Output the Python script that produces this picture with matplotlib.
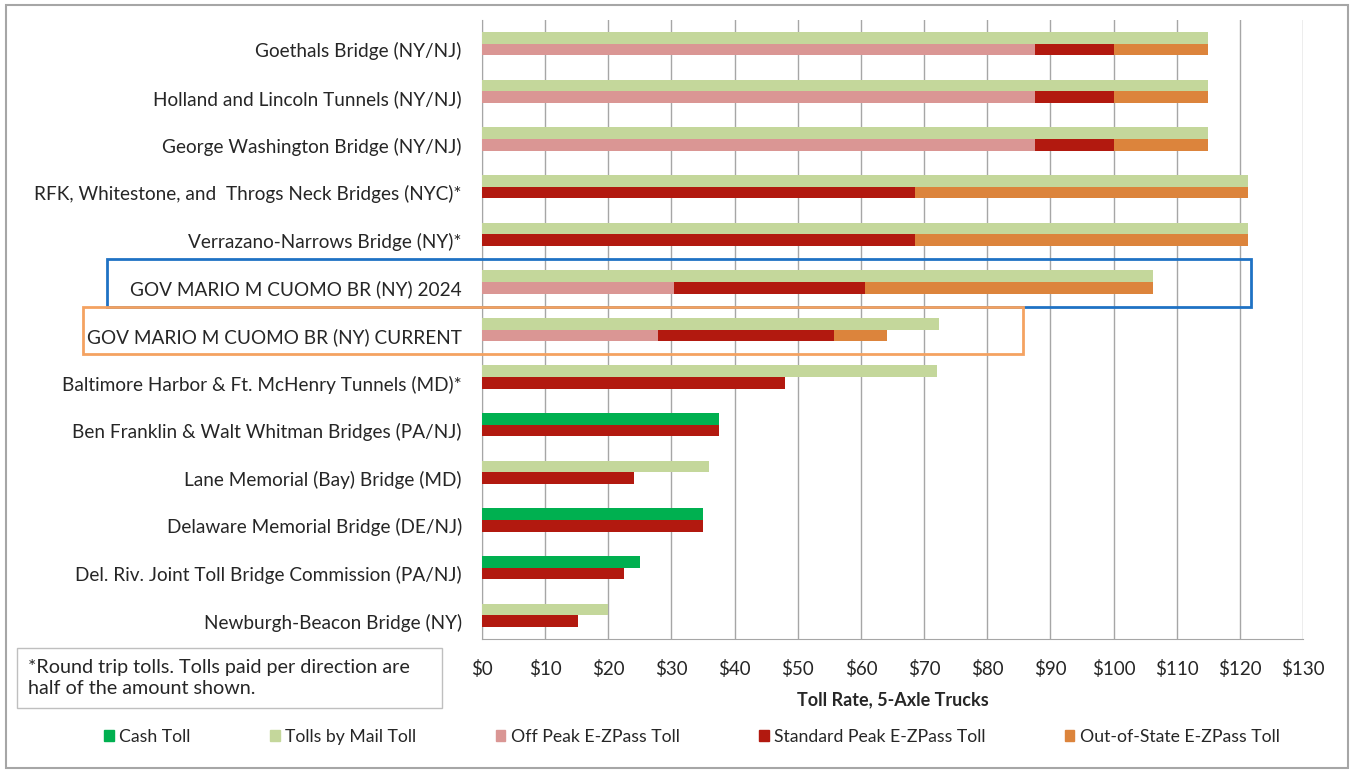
import matplotlib.pyplot as plt
import matplotlib.transforms as mtransforms
from matplotlib.patches import Rectangle, Patch

plt.rcParams['font.family'] = ['Lato', 'DejaVu Sans']

bridges = [
    "Goethals Bridge (NY/NJ)",
    "Holland and Lincoln Tunnels (NY/NJ)",
    "George Washington Bridge (NY/NJ)",
    "RFK, Whitestone, and  Throgs Neck Bridges (NYC)*",
    "Verrazano-Narrows Bridge (NY)*",
    "GOV MARIO M CUOMO BR (NY) 2024",
    "GOV MARIO M CUOMO BR (NY) CURRENT",
    "Baltimore Harbor & Ft. McHenry Tunnels (MD)*",
    "Ben Franklin & Walt Whitman Bridges (PA/NJ)",
    "Lane Memorial (Bay) Bridge (MD)",
    "Delaware Memorial Bridge (DE/NJ)",
    "Del. Riv. Joint Toll Bridge Commission (PA/NJ)",
    "Newburgh-Beacon Bridge (NY)",
]
cash_toll = [0, 0, 0, 0, 0, 0, 0, 0, 37.5, 0, 35, 25, 0]
mail_toll = [115, 115, 115, 121.3, 121.3, 106.2, 72.4, 72, 0, 36, 0, 0, 20]
off_peak = [87.5, 87.5, 87.5, 0, 0, 30.35, 27.85, 0, 0, 0, 0, 0, 0]
standard_peak = [100, 100, 100, 68.5, 68.5, 60.7, 55.7, 48, 37.5, 24, 35, 22.5, 15.25]
out_of_state = [115, 115, 115, 121.3, 121.3, 106.2, 64.1, 0, 0, 0, 0, 0, 0]
x_ticks = list(range(0, 131, 10))

c_cash = '#00B050'
c_mail = '#C4D79B'
c_off = '#DA9694'
c_std = '#B2190F'
c_oos = '#DC843C'
txt = '#262626'

W, H = 1351, 773


def fpos(x, y):
    # pixel position (from top-left) -> figure fraction
    return x / W, 1 - y / H


fig = plt.figure(figsize=(W / 100, H / 100), dpi=100)
ax = fig.add_axes([482 / W, 1 - 639 / H, (1303 - 482) / W, (639 - 20) / H])

y = list(range(len(bridges)))
h = 0.245
top = [v - h / 2 for v in y]
bot = [v + h / 2 for v in y]

ax.barh(top, mail_toll, height=h, color=c_mail, zorder=3)
ax.barh(top, cash_toll, height=h, color=c_cash, zorder=3)
# E-ZPass rates overlap: widest drawn first
ax.barh(bot, out_of_state, height=h, color=c_oos, zorder=3)
ax.barh(bot, standard_peak, height=h, color=c_std, zorder=4)
ax.barh(bot, off_peak, height=h, color=c_off, zorder=5)

ax.set_ylim(len(bridges) - 0.5, -0.5)
ax.set_xlim(0, 130)
ax.set_yticks(y)
ax.set_yticklabels(bridges, fontsize=13.7, color=txt)
ax.set_xticks(x_ticks)
ax.set_xticklabels([f'${v}' for v in x_ticks], fontsize=13.5, color=txt)
ax.tick_params(axis='y', length=0, pad=14.5)
ax.tick_params(axis='x', length=0, pad=15)
# category labels sit a little below the bar pair centre
shift = mtransforms.ScaledTranslation(0, -6 / 100, fig.dpi_scale_trans)
for lbl in ax.get_yticklabels():
    lbl.set_transform(lbl.get_transform() + shift)
ax.grid(axis='x', color='#A6A6A6', linewidth=1, zorder=0)
for s in ['top', 'right']:
    ax.spines[s].set_visible(False)
for s in ['left', 'bottom']:
    ax.spines[s].set_color('#A6A6A6')
ax.set_xlabel('Toll Rate, 5-Axle Trucks', fontsize=13, fontweight='bold',
              color=txt, labelpad=10)

# outer frame
fig.patches.append(Rectangle(fpos(6, 768), 1342 / W, 763 / H, transform=fig.transFigure,
                             fill=False, edgecolor='#A6A6A6', linewidth=1.5))

# highlight boxes around the Cuomo bridge rows
fig.patches.append(Rectangle(fpos(107, 307), (1251 - 107) / W, 48 / H, transform=fig.transFigure,
                             fill=False, edgecolor='#1F72C4', linewidth=2, zorder=10))
fig.patches.append(Rectangle(fpos(83, 354), (1023 - 83) / W, 47 / H, transform=fig.transFigure,
                             fill=False, edgecolor='#F4A261', linewidth=2, zorder=10))

# footnote box
fig.patches.append(Rectangle(fpos(17, 708), 425 / W, 60 / H, transform=fig.transFigure,
                             fill=False, edgecolor='#BFBFBF', linewidth=1))
fig.text(*fpos(28, 678), '*Round trip tolls. Tolls paid per direction are\nhalf of the amount shown.',
         fontsize=14.2, color=txt, va='center', ha='left', linespacing=1.35)

handles = [Patch(color=c_cash), Patch(color=c_mail), Patch(color=c_off),
           Patch(color=c_std), Patch(color=c_oos)]
labels = ['Cash Toll', 'Tolls by Mail Toll', 'Off Peak E-ZPass Toll',
          'Standard Peak E-ZPass Toll', 'Out-of-State E-ZPass Toll']
fig.legend(handles, labels, loc='center', bbox_to_anchor=fpos(692, 737), ncol=5,
           frameon=False, fontsize=12.7, handlelength=0.55, handleheight=0.55,
           handletextpad=0.3, columnspacing=4.5, labelcolor=txt)

fig.savefig('out.png', dpi=100)
